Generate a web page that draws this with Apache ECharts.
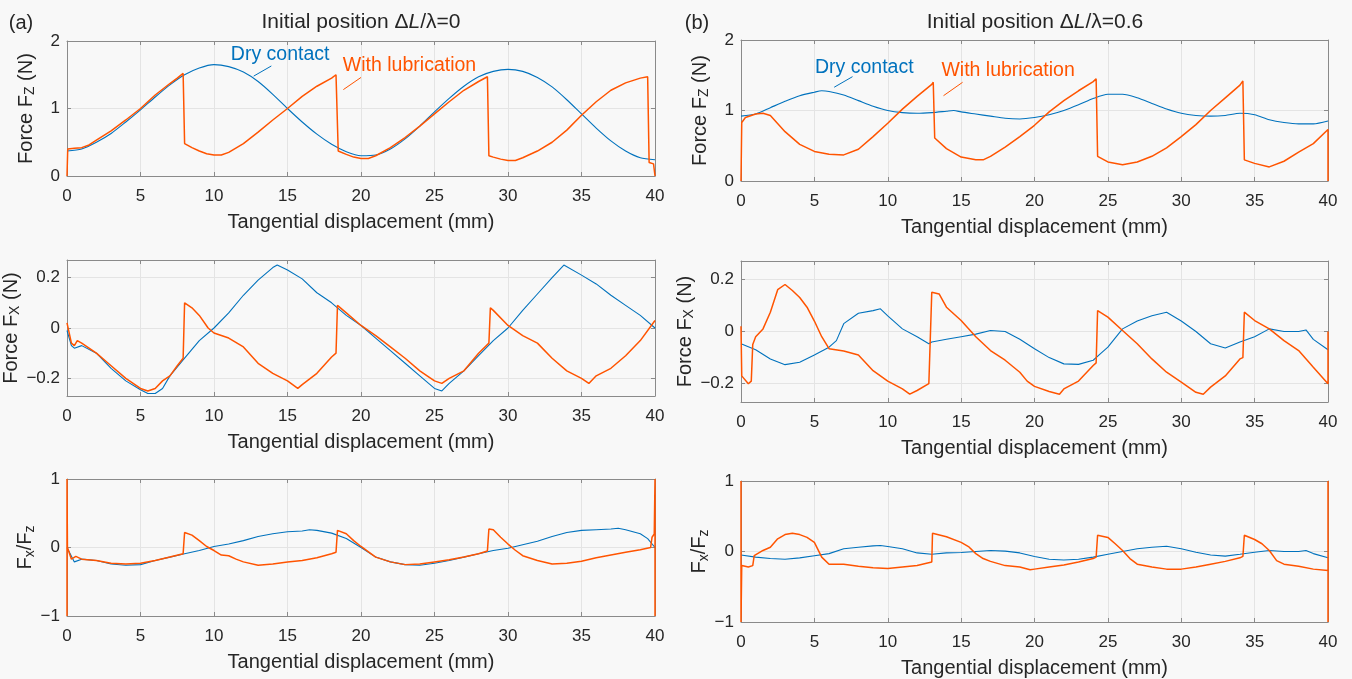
<!DOCTYPE html>
<html><head><meta charset="utf-8">
<script src="https://cdn.jsdelivr.net/npm/echarts@6/dist/echarts.min.js"></script>
<style>html,body{margin:0;padding:0;background:#f8f8f8}#c{width:1352px;height:679px}</style>
</head><body><div id="c"></div><script>
// ---------- tick labels ----------
const xTicks = [0, 5, 10, 15, 20, 25, 30, 35, 40];
const fzTicks = [0, 1, 2];
const fxTicks = [-0.2, 0, 0.2];
const ratioTicks = [-1, 0, 1];

// ---------- (a) initial position dL/lambda = 0 ----------
const fzDryA = [[0,0.37],[1,0.40],[2,0.50],[3,0.63],[4,0.80],[5,0.98],[6,1.17],[7,1.35],[8,1.50],[9,1.60],[10,1.65],[11,1.62],[12,1.54],[13,1.40],[14,1.21],[15,1.00],[16,0.80],[17,0.62],[18,0.47],[19,0.36],[20,0.30],[21,0.31],[22,0.40],[23,0.55],[24,0.74],[25,0.95],[26,1.15],[27,1.33],[28,1.47],[29,1.55],[30,1.58],[31,1.55],[32,1.46],[33,1.32],[34,1.13],[35,0.92],[36,0.71],[37,0.52],[38,0.37],[39,0.27],[40,0.24]];
const fzLubA = [[0,0],[0.05,0.40],[0.5,0.41],[1,0.42],[1.5,0.46],[2,0.53],[3,0.67],[4,0.83],[5,1.0],[6,1.2],[7,1.37],[7.5,1.45],[7.9,1.52],[8.0,0.48],[8.5,0.42],[9,0.37],[9.5,0.33],[10,0.31],[10.5,0.31],[11,0.35],[12,0.48],[13,0.65],[14,0.83],[15,1.0],[16,1.18],[17,1.33],[18,1.45],[18.3,1.5],[18.45,0.37],[19,0.32],[19.5,0.28],[20,0.26],[20.5,0.26],[21,0.3],[22,0.42],[23,0.57],[24,0.74],[25,0.92],[26,1.1],[27,1.27],[28,1.4],[28.6,1.47],[28.7,0.3],[29,0.28],[29.5,0.25],[30,0.23],[30.5,0.23],[31,0.27],[32,0.37],[33,0.5],[34,0.68],[35,0.9],[36,1.1],[37,1.27],[38,1.38],[39,1.45],[39.5,1.47],[39.6,0.2],[39.9,0.18],[40,0]];
const fxDryA = [[0,-0.01],[0.3,-0.07],[0.5,-0.08],[1,-0.07],[2,-0.1],[3,-0.16],[4,-0.21],[5,-0.245],[5.5,-0.26],[6,-0.26],[6.5,-0.24],[7,-0.19],[8,-0.12],[9,-0.05],[10,0.0],[11,0.06],[12,0.13],[13,0.19],[14,0.24],[14.3,0.25],[15,0.23],[16,0.195],[17,0.14],[18,0.1],[19,0.05],[20,0.01],[21,-0.04],[22,-0.09],[23,-0.14],[24,-0.19],[25,-0.24],[25.5,-0.25],[26,-0.22],[27,-0.17],[28,-0.11],[29,-0.05],[30,0.0],[31,0.07],[32,0.135],[33,0.2],[33.8,0.25],[35,0.21],[36,0.175],[37,0.13],[38,0.09],[39,0.05],[40,0.0]];
const fxLubA = [[0,0.02],[0.3,-0.06],[0.5,-0.07],[0.7,-0.05],[1,-0.06],[2,-0.1],[3,-0.15],[4,-0.2],[5,-0.24],[5.5,-0.25],[6,-0.24],[6.5,-0.21],[7,-0.19],[7.5,-0.15],[7.9,-0.12],[8.0,0.1],[8.5,0.08],[9,0.05],[9.6,0.0],[10,-0.02],[11,-0.04],[12,-0.075],[13,-0.14],[14,-0.18],[15,-0.21],[15.7,-0.24],[16,-0.225],[17,-0.18],[18,-0.115],[18.3,-0.1],[18.4,0.09],[19,0.06],[20,0.01],[21,-0.03],[22,-0.075],[23,-0.12],[24,-0.17],[25,-0.21],[25.5,-0.22],[26,-0.2],[27,-0.17],[28,-0.1],[28.7,-0.06],[28.8,0.08],[29,0.07],[30,0.01],[31,-0.03],[32,-0.06],[33,-0.12],[34,-0.17],[35,-0.2],[35.5,-0.22],[36,-0.19],[37,-0.16],[38,-0.11],[39,-0.05],[40,0.03]];
const ratioDryA = [[0,0.0],[0.5,-0.21],[1,-0.17],[2,-0.19],[3,-0.24],[4,-0.26],[5,-0.25],[6,-0.19],[7,-0.14],[8,-0.09],[9,-0.044],[10,0.015],[11,0.05],[12,0.1],[13,0.16],[14,0.2],[15,0.23],[16,0.24],[16.5,0.26],[17,0.25],[18,0.21],[19,0.13],[20,0.0],[21,-0.14],[22,-0.21],[23,-0.25],[24,-0.26],[25,-0.23],[26,-0.19],[27,-0.14],[28,-0.09],[29,-0.044],[30,-0.01],[31,0.04],[32,0.09],[33,0.16],[34,0.22],[35,0.25],[36,0.26],[37,0.27],[37.5,0.28],[38,0.26],[39,0.2],[39.5,0.13],[40,0.0]];
const ratioLubA = [[0,-1],[0,1],[0.03,0.0],[0.3,-0.17],[0.6,-0.13],[1,-0.17],[2,-0.19],[3,-0.23],[4,-0.24],[5,-0.23],[6,-0.19],[7,-0.14],[7.9,-0.09],[8.0,0.22],[8.5,0.18],[9,0.1],[9.5,0.015],[10,-0.044],[10.5,-0.11],[11,-0.12],[11.5,-0.17],[12,-0.21],[13,-0.26],[14,-0.24],[15,-0.21],[16,-0.19],[17,-0.15],[18,-0.09],[18.3,-0.07],[18.4,0.25],[19,0.2],[19.5,0.1],[20,0.015],[21,-0.14],[22,-0.21],[23,-0.25],[24,-0.24],[25,-0.21],[26,-0.18],[27,-0.14],[28,-0.09],[28.6,-0.05],[28.7,0.27],[29,0.26],[29.5,0.15],[30,0.05],[30.5,-0.04],[31,-0.12],[32,-0.19],[33,-0.24],[34,-0.23],[35,-0.2],[36,-0.15],[37,-0.11],[38,-0.07],[39,-0.034],[39.7,0.0],[39.8,0.15],[39.95,0.2],[40,1],[40,-1]];

// ---------- (b) initial position dL/lambda = 0.6 ----------
const fzDryB = [[0,0.92],[1,0.95],[2,1.04],[3,1.13],[4,1.21],[5,1.26],[5.5,1.28],[6,1.27],[7,1.22],[8,1.14],[9,1.06],[10,1.0],[11,0.97],[12,0.96],[13,0.97],[14,0.99],[14.5,1.0],[15,0.98],[16,0.95],[17,0.92],[18,0.89],[19,0.88],[20,0.9],[21,0.94],[22,1.0],[23,1.08],[24,1.17],[25,1.23],[26,1.23],[27,1.18],[28,1.1],[29,1.02],[30,0.96],[31,0.93],[32,0.92],[33,0.93],[34,0.96],[35,0.94],[36,0.87],[37,0.83],[38,0.81],[39,0.81],[40,0.85]];
const fzLubB = [[0,0],[0.05,0.83],[0.3,0.9],[1,0.95],[1.5,0.96],[2,0.93],[3,0.7],[4,0.52],[5,0.42],[6,0.38],[7,0.37],[8,0.45],[9,0.63],[10,0.82],[11,1.02],[12,1.2],[13,1.37],[13.1,1.4],[13.2,0.61],[14,0.46],[15,0.34],[16,0.3],[16.5,0.3],[17,0.35],[18,0.48],[19,0.63],[20,0.79],[21,0.98],[22,1.14],[23,1.28],[24,1.41],[24.2,1.45],[24.3,0.35],[25,0.27],[26,0.23],[27,0.27],[28,0.35],[29,0.47],[30,0.63],[31,0.8],[32,1.0],[33,1.18],[34,1.36],[34.2,1.42],[34.3,0.3],[35,0.25],[36,0.2],[37,0.28],[38,0.41],[39,0.53],[40,0.73],[40,0]];
const fxDryB = [[0,-0.047],[1,-0.07],[2,-0.105],[3,-0.127],[4,-0.118],[5,-0.09],[6,-0.06],[6.5,-0.035],[7,0.03],[8,0.07],[9,0.08],[9.5,0.087],[10,0.06],[11,0.01],[12,-0.02],[12.8,-0.047],[13,-0.04],[14,-0.03],[15,-0.02],[16,-0.01],[17,0.004],[18,0.0],[19,-0.03],[20,-0.066],[21,-0.1],[22,-0.124],[23,-0.126],[24,-0.11],[24.5,-0.085],[25,-0.06],[26,0.01],[27,0.04],[28,0.06],[29,0.074],[30,0.04],[31,0.0],[32,-0.047],[33,-0.063],[34,-0.04],[35,-0.02],[36,0.01],[37,0.0],[38,0.0],[38.5,0.006],[39,-0.03],[40,-0.07]];
const fxLubB = [[0,0.02],[0.05,-0.17],[0.5,-0.2],[0.7,-0.19],[0.8,-0.05],[1,-0.02],[1.5,0.01],[2,0.074],[2.5,0.16],[3,0.18],[3.5,0.157],[4,0.13],[4.5,0.093],[5,0.04],[5.5,-0.02],[6,-0.066],[7,-0.075],[8,-0.09],[9,-0.15],[10,-0.19],[11,-0.22],[11.5,-0.24],[12,-0.226],[12.8,-0.2],[13.0,0.15],[13.5,0.144],[14,0.093],[15,0.042],[16,-0.02],[17,-0.073],[18,-0.11],[19,-0.156],[19.5,-0.19],[20,-0.21],[21,-0.23],[21.7,-0.24],[22,-0.22],[23,-0.19],[24,-0.13],[24.2,-0.12],[24.3,0.08],[25,0.055],[26,0.004],[27,-0.047],[28,-0.105],[29,-0.156],[30,-0.194],[31,-0.233],[31.5,-0.24],[32,-0.213],[33,-0.17],[34,-0.105],[34.2,-0.1],[34.3,0.074],[35,0.042],[36,0.01],[37,-0.035],[38,-0.073],[39,-0.137],[40,-0.2],[40,0]];
const ratioDryB = [[0,-0.05],[1,-0.08],[2,-0.1],[3,-0.11],[4,-0.09],[5,-0.06],[6,-0.03],[7,0.04],[8,0.06],[9,0.08],[9.5,0.085],[10,0.07],[11,0.04],[12,-0.02],[13,-0.04],[14,-0.02],[15,-0.015],[16,0.0],[17,0.015],[18,0.005],[19,-0.02],[20,-0.07],[21,-0.11],[22,-0.12],[23,-0.11],[24,-0.08],[25,-0.04],[26,0.0],[27,0.04],[28,0.06],[29,0.075],[30,0.04],[31,-0.01],[32,-0.05],[33,-0.065],[34,-0.04],[35,-0.01],[36,0.015],[37,0.0],[38,0.0],[38.5,0.015],[39,-0.03],[40,-0.09]];
const ratioLubB = [[0,1],[0,-1],[0.05,-0.2],[0.5,-0.22],[0.8,-0.2],[0.9,-0.06],[1,-0.05],[1.5,0.015],[2,0.06],[2.5,0.18],[3,0.24],[3.5,0.26],[4,0.24],[4.5,0.2],[5,0.13],[5.5,-0.08],[6,-0.18],[7,-0.18],[8,-0.21],[9,-0.23],[10,-0.24],[11,-0.22],[12,-0.2],[13,-0.15],[13.05,0.26],[14,0.21],[15,0.13],[15.5,0.07],[16,-0.03],[16.5,-0.1],[17,-0.14],[18,-0.2],[19,-0.22],[19.7,-0.26],[20,-0.25],[21,-0.22],[22,-0.19],[23,-0.15],[24,-0.1],[24.2,-0.08],[24.3,0.23],[25,0.2],[25.5,0.11],[26,0.015],[26.5,-0.1],[27,-0.18],[28,-0.22],[29,-0.25],[30,-0.25],[31,-0.22],[32,-0.18],[33,-0.14],[34,-0.09],[34.2,-0.07],[34.3,0.23],[35,0.17],[35.5,0.11],[36,0.015],[36.5,-0.13],[37,-0.18],[38,-0.21],[39,-0.25],[40,-0.27],[40,-1],[40,1]];

// ---------- annotation anchors (data coordinates) ----------
const dryLabelA = [14.5, 1.8], dryPtrA = [[13.9, 1.63], [12.7, 1.48]];
const lubLabelA = [23.3, 1.64], lubPtrA = [[20.0, 1.46], [18.8, 1.28]];
const dryLabelB = [8.4, 1.61], dryPtrB = [[7.6, 1.48], [6.35, 1.33]];
const lubLabelB = [18.2, 1.56], lubPtrB = [[15.1, 1.40], [13.8, 1.21]];

// ---------- layout / style ----------
const FONT = '"Liberation Sans", Arial, sans-serif';
const BLUE = '#0072BD', ORANGE = '#FF5400';
const TXT = '#262626', AX = '#8a8a8a', GRID = '#e4e4e4';
const XNAME = 'Tangential displacement (mm)';
const nameRich = {sub: {fontSize: 14, fontFamily: FONT, color: TXT, verticalAlign: 'bottom', padding: [8, 0, 0, 0]}};

const panels = [
  {grid: {left: 67, right: 697, top: 41, height: 135}, min: 0, max: 2, ticks: fzTicks, name: 'Force F{sub|Z} (N)', gap: 30, dry: fzDryA, lub: fzLubA, smooth: 0.25, ann: [dryLabelA, dryPtrA, lubLabelA, lubPtrA]},
  {grid: {left: 67, right: 697, top: 260, height: 136}, min: -0.27, max: 0.27, ticks: fxTicks, name: 'Force F{sub|X} (N)', gap: 37, dry: fxDryA, lub: fxLubA, smooth: 0},
  {grid: {left: 67, right: 697, top: 479, height: 137}, min: -1, max: 1, ticks: ratioTicks, name: 'F{sub|x}/F{sub|z}', gap: 28, dry: ratioDryA, lub: ratioLubA, smooth: 0},
  {grid: {left: 741, right: 24, top: 40, height: 141}, min: 0, max: 2, ticks: fzTicks, name: 'Force F{sub|Z} (N)', gap: 30, dry: fzDryB, lub: fzLubB, smooth: 0.25, ann: [dryLabelB, dryPtrB, lubLabelB, lubPtrB]},
  {grid: {left: 741, right: 24, top: 261, height: 141}, min: -0.27, max: 0.27, ticks: fxTicks, name: 'Force F{sub|X} (N)', gap: 37, dry: fxDryB, lub: fxLubB, smooth: 0},
  {grid: {left: 741, right: 24, top: 481, height: 141}, min: -1, max: 1, ticks: ratioTicks, name: 'F{sub|x}/F{sub|z}', gap: 28, dry: ratioDryB, lub: ratioLubB, smooth: 0},
];

const fmt = v => String(v).replace('-', '\u2212');
const grid = [], xAxis = [], yAxis = [], series = [];
panels.forEach((p, i) => {
  grid.push(Object.assign({show: false}, p.grid));
  const xBase = {type: 'value', gridIndex: i, min: 0, max: 40, interval: 5,
    axisLine: {show: true, onZero: false, lineStyle: {color: AX, width: 1}},
    axisTick: {show: true, inside: true, length: 4, lineStyle: {color: AX}}};
  xAxis.push(Object.assign({}, xBase, {position: 'bottom',
    axisLabel: {show: true, margin: 12, fontSize: 17, fontFamily: FONT, color: TXT, formatter: fmt, customValues: xTicks},
    splitLine: {show: true, lineStyle: {color: GRID, width: 1}},
    name: XNAME, nameLocation: 'middle', nameGap: 36,
    nameTextStyle: {fontSize: 20, fontFamily: FONT, color: TXT}}));
  xAxis.push(Object.assign({}, xBase, {position: 'top', axisLabel: {show: false}, splitLine: {show: false}}));
  const yBase = {type: 'value', gridIndex: i, min: p.min, max: p.max,
    axisLine: {show: true, onZero: false, lineStyle: {color: AX, width: 1}},
    axisTick: {show: true, inside: true, length: 4, lineStyle: {color: AX}, customValues: p.ticks}};
  yAxis.push(Object.assign({}, yBase, {position: 'left',
    axisLabel: {show: true, margin: 7, fontSize: 17, fontFamily: FONT, color: TXT, formatter: fmt, customValues: p.ticks},
    splitLine: {show: true, lineStyle: {color: GRID, width: 1}},
    name: p.name, nameLocation: 'middle', nameGap: p.gap, nameRotate: 90,
    nameTextStyle: {fontSize: 20, fontFamily: FONT, color: TXT, rich: nameRich}}));
  yAxis.push(Object.assign({}, yBase, {position: 'right', axisLabel: {show: false}, splitLine: {show: false}}));

  const dry = {type: 'line', name: 'Dry contact', xAxisIndex: 2 * i, yAxisIndex: 2 * i, data: p.dry,
    showSymbol: false, symbol: 'none', smooth: p.smooth, lineStyle: {color: BLUE, width: 1.1}, itemStyle: {color: BLUE}, z: 3};
  const lub = {type: 'line', name: 'With lubrication', xAxisIndex: 2 * i, yAxisIndex: 2 * i, data: p.lub,
    showSymbol: false, symbol: 'none', lineStyle: {color: ORANGE, width: 1.5}, itemStyle: {color: ORANGE}, z: 4};
  if (p.ann) {
    const mk = (label, ptr, text, color) => ({
      markPoint: {silent: true, animation: false, data: [{coord: label, symbol: 'circle', symbolSize: 1,
        itemStyle: {color: 'rgba(0,0,0,0)'},
        label: {show: true, position: 'inside', formatter: text, color: color, fontSize: 19.5, fontFamily: FONT}}]},
      markLine: {silent: true, animation: false, symbol: ['none', 'none'], label: {show: false},
        lineStyle: {color: color, width: 1, type: 'solid'},
        data: [[{coord: ptr[0]}, {coord: ptr[1]}]]}
    });
    Object.assign(dry, mk(p.ann[0], p.ann[1], 'Dry contact', BLUE));
    Object.assign(lub, mk(p.ann[2], p.ann[3], 'With lubrication', ORANGE));
  }
  series.push(dry, lub);
});

const graphic = [
  {type: 'text', x: 21, y: 23, style: {text: '(a)', font: '20px ' + FONT, fill: TXT, align: 'center', verticalAlign: 'middle'}},
  {type: 'text', x: 697, y: 23, style: {text: '(b)', font: '20px ' + FONT, fill: TXT, align: 'center', verticalAlign: 'middle'}},
  {type: 'text', x: 361, y: 22, style: {text: 'Initial position \u0394{i|L}/\u03bb=0', font: '21px ' + FONT, fill: TXT, align: 'center', verticalAlign: 'middle',
     rich: {i: {fontStyle: 'italic', fontSize: 21, fontFamily: FONT, fill: TXT}}}},
  {type: 'text', x: 1035, y: 22, style: {text: 'Initial position \u0394{i|L}/\u03bb=0.6', font: '21px ' + FONT, fill: TXT, align: 'center', verticalAlign: 'middle',
     rich: {i: {fontStyle: 'italic', fontSize: 21, fontFamily: FONT, fill: TXT}}}}
];

const chart = echarts.init(document.getElementById('c'), null, {renderer: 'canvas'});
chart.setOption({backgroundColor: '#f8f8f8', animation: false, grid, xAxis, yAxis, series, graphic});
</script></body></html>
